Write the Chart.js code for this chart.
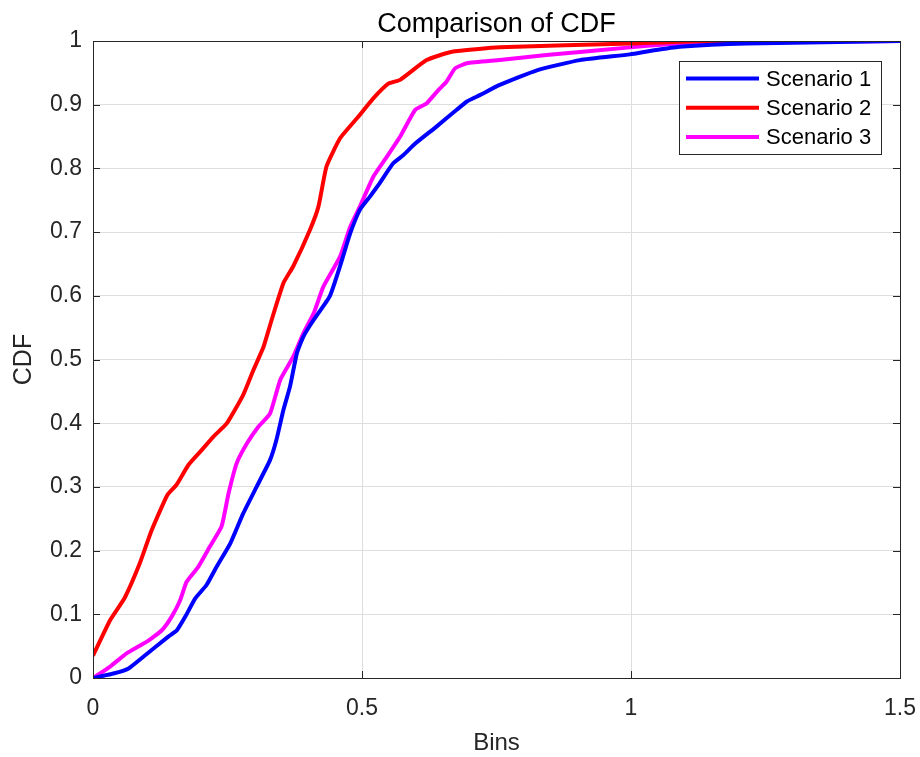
<!DOCTYPE html>
<html>
<head>
<meta charset="utf-8">
<script src="https://cdn.jsdelivr.net/npm/chart.js@4.4.1/dist/chart.umd.min.js"></script>
<style>
  html, body { margin: 0; padding: 0; background: #fff; }
  #wrap { width: 920px; height: 757px; }
</style>
</head>
<body>
<div id="wrap"><canvas id="cdf"></canvas></div>
<script>
// valeurs (abscisse = Bins, ordonnée = CDF)
var bins1 = [0, 0.038, 0.066, 0.093, 0.14, 0.156, 0.174, 0.19, 0.211, 0.23, 0.255, 0.279, 0.304, 0.329, 0.341, 0.354, 0.366, 0.379, 0.391, 0.41, 0.44, 0.459, 0.478, 0.496, 0.515, 0.533, 0.558, 0.577, 0.599, 0.639, 0.676, 0.695, 0.719, 0.756, 0.825, 0.905, 0.998, 1.04, 1.09, 1.215, 1.5];
var cdf1 = [0, 0.007, 0.015, 0.033, 0.065, 0.075, 0.10, 0.125, 0.146, 0.175, 0.211, 0.258, 0.30, 0.342, 0.374, 0.421, 0.457, 0.51, 0.536, 0.562, 0.599, 0.646, 0.698, 0.735, 0.756, 0.777, 0.808, 0.821, 0.839, 0.866, 0.892, 0.905, 0.915, 0.931, 0.954, 0.97, 0.979, 0.985, 0.991, 0.996, 1];

var bins2 = [0, 0.032, 0.059, 0.087, 0.109, 0.138, 0.155, 0.177, 0.199, 0.224, 0.249, 0.279, 0.298, 0.317, 0.332, 0.354, 0.372, 0.403, 0.419, 0.434, 0.459, 0.493, 0.521, 0.549, 0.571, 0.62, 0.667, 0.756, 1.0, 1.14, 1.5];
var cdf2 = [0.035, 0.091, 0.126, 0.18, 0.232, 0.287, 0.303, 0.334, 0.355, 0.379, 0.40, 0.444, 0.483, 0.52, 0.562, 0.62, 0.646, 0.703, 0.74, 0.803, 0.847, 0.881, 0.91, 0.933, 0.939, 0.97, 0.983, 0.99, 0.996, 1, 1];

var bins3 = [0, 0.032, 0.063, 0.1, 0.128, 0.146, 0.162, 0.174, 0.196, 0.217, 0.239, 0.252, 0.267, 0.286, 0.307, 0.329, 0.348, 0.372, 0.391, 0.41, 0.428, 0.459, 0.478, 0.496, 0.521, 0.546, 0.571, 0.599, 0.62, 0.642, 0.657, 0.673, 0.695, 0.756, 0.843, 0.998, 1.09, 1.2, 1.5];
var cdf3 = [0, 0.018, 0.039, 0.057, 0.075, 0.096, 0.122, 0.151, 0.175, 0.206, 0.238, 0.29, 0.337, 0.368, 0.394, 0.415, 0.468, 0.504, 0.541, 0.572, 0.614, 0.661, 0.708, 0.74, 0.787, 0.818, 0.85, 0.892, 0.902, 0.923, 0.936, 0.957, 0.965, 0.97, 0.978, 0.99, 0.996, 0.998, 1];

var seriesNames = ['Scenario 1', 'Scenario 2', 'Scenario 3'];
var seriesColors = ['#0000ff', '#ff0000', '#ff00ff'];
var chartTitle = 'Comparison of CDF';

var AXIS = '#262626';
var FONT = 'Liberation Sans, Arial, Helvetica, sans-serif';

function toPoints(xs, ys) {
  return xs.map(function(x, i) { return { x: x, y: ys[i] }; });
}

var allBins = [bins1, bins2, bins3];
var allCdf = [cdf1, cdf2, cdf3];

// titre centré sur la zone de tracé (comme MATLAB), pas sur tout le canvas
var axesTitle = {
  id: 'axesTitle',
  afterDraw: function(chart) {
    var ctx = chart.ctx, a = chart.chartArea;
    ctx.save();
    ctx.fillStyle = '#000';
    ctx.font = '27px ' + FONT;
    ctx.textAlign = 'center';
    ctx.textBaseline = 'alphabetic';
    ctx.fillText(chartTitle, (a.left + a.right) / 2, 32);
    ctx.restore();
  }
};

// boîte des axes + petites graduations intérieures (style MATLAB)
var boxPlugin = {
  id: 'boxPlugin',
  afterDatasetsDraw: function(chart) {
    var ctx = chart.ctx, a = chart.chartArea;
    var xs = chart.scales.x, ys = chart.scales.y;
    var tl = 7;
    ctx.save();
    ctx.strokeStyle = AXIS;
    ctx.lineWidth = 1;
    ctx.beginPath();
    xs.ticks.forEach(function(t) {
      var px = Math.round(xs.getPixelForValue(t.value)) + 0.5;
      ctx.moveTo(px, a.bottom); ctx.lineTo(px, a.bottom - tl);
      ctx.moveTo(px, a.top); ctx.lineTo(px, a.top + tl);
    });
    ys.ticks.forEach(function(t) {
      var py = Math.round(ys.getPixelForValue(t.value)) + 0.5;
      ctx.moveTo(a.left, py); ctx.lineTo(a.left + tl, py);
      ctx.moveTo(a.right, py); ctx.lineTo(a.right - tl, py);
    });
    ctx.stroke();
    ctx.strokeRect(Math.round(a.left) + 0.5, Math.round(a.top) + 0.5,
      Math.round(a.right - a.left), Math.round(a.bottom - a.top));
    ctx.restore();
  }
};

// légende dans le coin haut droit, encadrée
var legendBox = {
  id: 'legendBox',
  afterDraw: function(chart) {
    var ctx = chart.ctx, a = chart.chartArea;
    var w = 202, h = 93, rowH = 29.2;
    var x0 = a.right - 19 - w, y0 = a.top + 20;
    ctx.save();
    ctx.fillStyle = '#fff';
    ctx.fillRect(x0, y0, w, h);
    ctx.strokeStyle = AXIS;
    ctx.lineWidth = 1;
    ctx.strokeRect(Math.round(x0) + 0.5, Math.round(y0) + 0.5, w, h);
    ctx.font = '22px ' + FONT;
    ctx.textBaseline = 'middle';
    chart.data.datasets.forEach(function(ds, i) {
      var cy = y0 + 17.5 + i * rowH;
      ctx.strokeStyle = ds.borderColor;
      ctx.lineWidth = 4;
      ctx.beginPath();
      ctx.moveTo(x0 + 7, cy); ctx.lineTo(x0 + 80, cy);
      ctx.stroke();
      ctx.fillStyle = '#000';
      ctx.fillText(ds.label, x0 + 87, cy + 1);
    });
    ctx.restore();
  }
};

var datasets = seriesNames.map(function(name, i) {
  return {
    label: name,
    data: toPoints(allBins[i], allCdf[i]),
    borderColor: seriesColors[i],
    backgroundColor: seriesColors[i],
    borderWidth: 4,
    pointRadius: 0,
    showLine: true,
    tension: 0.15,
    fill: false
  };
});

var cdfChart = new Chart(document.getElementById('cdf').getContext('2d'), {
  type: 'scatter',
  data: { datasets: datasets },
  options: {
    responsive: true,
    maintainAspectRatio: false,
    animation: false,
    layout: { padding: { top: 41, right: 20, bottom: 0, left: 0 } },
    plugins: {
      legend: { display: false },
      tooltip: { enabled: false },
      title: { display: false }
    },
    scales: {
      x: {
        type: 'linear',
        min: 0,
        max: 1.5,
        afterFit: function(scale) {
          scale.height = 79;
          scale.paddingRight = 0;
          scale.paddingLeft = 0;
        },
        ticks: {
          stepSize: 0.5,
          color: AXIS,
          padding: 17,
          font: { family: FONT, size: 23 },
          callback: function(v) { return String(v); }
        },
        grid: { color: '#dedede', drawTicks: false },
        border: { display: false },
        title: {
          display: true,
          text: 'Bins',
          color: AXIS,
          font: { family: FONT, size: 24, lineHeight: 1.1 },
          padding: { top: 4, bottom: 0 }
        }
      },
      y: {
        type: 'linear',
        min: 0,
        max: 1,
        afterFit: function(scale) {
          scale.width = 93;
          scale.paddingTop = 0;
        },
        ticks: {
          stepSize: 0.1,
          color: AXIS,
          padding: 11,
          font: { family: FONT, size: 23 },
          callback: function(v) { return String(Math.round(v * 10) / 10); }
        },
        grid: { color: '#dedede', drawTicks: false },
        border: { display: false },
        title: {
          display: true,
          text: 'CDF',
          color: AXIS,
          font: { family: FONT, size: 25 },
          padding: { top: 9, bottom: 0 }
        }
      }
    }
  },
  plugins: [boxPlugin, legendBox, axesTitle]
});
</script>
</body>
</html>
